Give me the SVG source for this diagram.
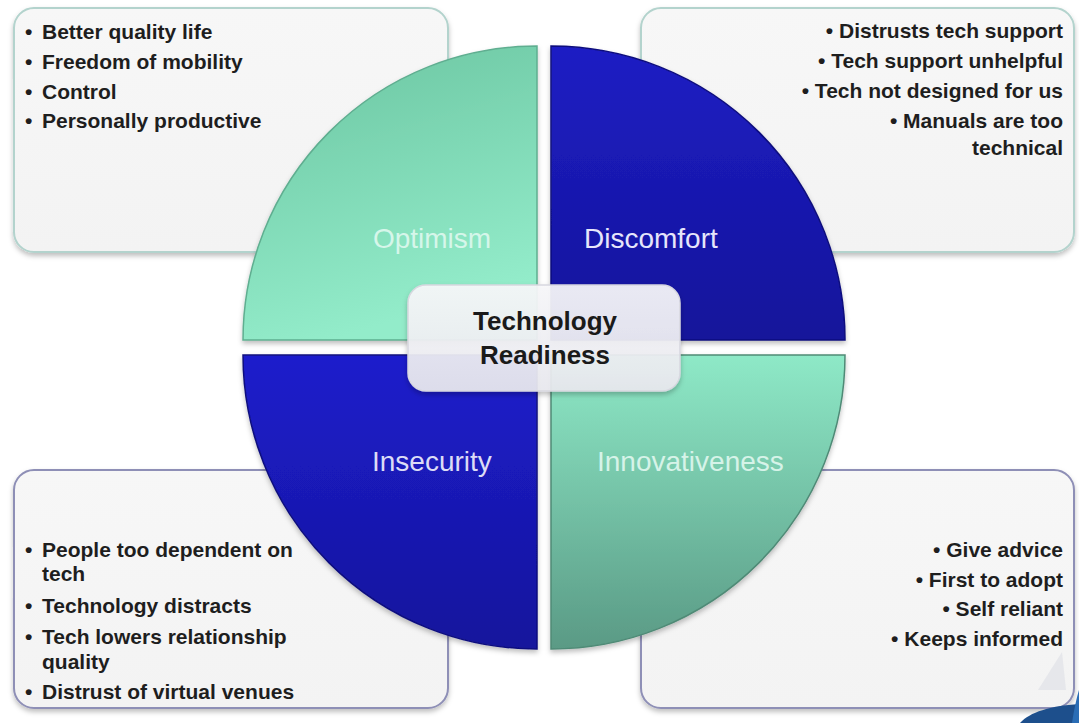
<svg xmlns="http://www.w3.org/2000/svg" width="1079" height="723" viewBox="0 0 1079 723">
  <defs>
    <filter id="shadow" x="-10%" y="-10%" width="120%" height="125%">
      <feDropShadow dx="0" dy="3" stdDeviation="2.5" flood-color="#000" flood-opacity="0.25"/>
    </filter>
    <linearGradient id="boxFill" x1="0" y1="0" x2="0" y2="1">
      <stop offset="0" stop-color="#f7f7f7"/>
      <stop offset="1" stop-color="#f3f3f3"/>
    </linearGradient>
    <linearGradient id="gOpt" x1="0" y1="0" x2="0.3" y2="1">
      <stop offset="0" stop-color="#6ac4a0"/>
      <stop offset="1" stop-color="#93ecca"/>
    </linearGradient>
    <linearGradient id="gDis" x1="0" y1="0" x2="0" y2="1">
      <stop offset="0" stop-color="#1e1ec4"/>
      <stop offset="1" stop-color="#13139a"/>
    </linearGradient>
    <linearGradient id="gIns" x1="0" y1="0" x2="0" y2="1">
      <stop offset="0" stop-color="#1d1dcc"/>
      <stop offset="1" stop-color="#15159c"/>
    </linearGradient>
    <linearGradient id="gInn" x1="0" y1="0" x2="0" y2="1">
      <stop offset="0" stop-color="#8ee9c7"/>
      <stop offset="1" stop-color="#5a9a85"/>
    </linearGradient>
    <linearGradient id="gCenter" x1="0" y1="0" x2="0" y2="1">
      <stop offset="0" stop-color="#f8f8fa"/>
      <stop offset="1" stop-color="#e9e9ef"/>
    </linearGradient>
    <style>
      .boxTop { fill: url(#boxFill); stroke: #b3d3cd; stroke-width: 2; filter: url(#shadow); }
      .boxBot { fill: url(#boxFill); stroke: #8e8fb6; stroke-width: 2; filter: url(#shadow); }
      .bul { font-family: "Liberation Sans", Arial, sans-serif; font-weight: bold; font-size: 21px; fill: #1e1e1e; }
      .r { text-anchor: end; }
      .lab { font-family: "Liberation Sans", Arial, sans-serif; font-size: 28px; }
      .ctr { font-family: "Liberation Sans", Arial, sans-serif; font-weight: bold; font-size: 26px; fill: #1a1a1a; text-anchor: middle; }
      .q { filter: url(#shadow); stroke-width: 1.5; }
    </style>
  </defs>
  <rect width="1079" height="723" fill="#ffffff"/>

  <g id="box-optimism">
    <rect class="boxTop" x="14" y="8" width="434" height="244" rx="20"/>
    <text class="bul"><tspan x="25" y="39">•</tspan><tspan x="42" y="39">Better quality life</tspan></text>
    <text class="bul"><tspan x="25" y="69">•</tspan><tspan x="42" y="69">Freedom of mobility</tspan></text>
    <text class="bul"><tspan x="25" y="99">•</tspan><tspan x="42" y="99">Control</tspan></text>
    <text class="bul"><tspan x="25" y="128">•</tspan><tspan x="42" y="128">Personally productive</tspan></text>
  </g>

  <g id="box-discomfort">
    <rect class="boxTop" x="641" y="8" width="433" height="244" rx="20"/>
    <text class="bul r" x="1063" y="38">• Distrusts tech support</text>
    <text class="bul r" x="1063" y="68">• Tech support unhelpful</text>
    <text class="bul r" x="1063" y="98">• Tech not designed for us</text>
    <text class="bul r" x="1063" y="128">• Manuals are too</text>
    <text class="bul r" x="1063" y="155">technical</text>
  </g>

  <g id="box-insecurity">
    <rect class="boxBot" x="14" y="470" width="434" height="238" rx="20"/>
    <text class="bul"><tspan x="25" y="557">•</tspan><tspan x="42" y="557">People too dependent on</tspan></text>
    <text class="bul" x="42" y="581">tech</text>
    <text class="bul"><tspan x="25" y="613">•</tspan><tspan x="42" y="613">Technology distracts</tspan></text>
    <text class="bul"><tspan x="25" y="644">•</tspan><tspan x="42" y="644">Tech lowers relationship</tspan></text>
    <text class="bul" x="42" y="669">quality</text>
    <text class="bul"><tspan x="25" y="699">•</tspan><tspan x="42" y="699">Distrust of virtual venues</tspan></text>
  </g>

  <g id="box-innovativeness">
    <rect class="boxBot" x="641" y="470" width="433" height="238" rx="20"/>
    <path d="M1038,690 L1062,652 L1066,690 Z" fill="#e2e4e8" opacity="0.8"/>
    <text class="bul r" x="1063" y="557">• Give advice</text>
    <text class="bul r" x="1063" y="587">• First to adopt</text>
    <text class="bul r" x="1063" y="616">• Self reliant</text>
    <text class="bul r" x="1063" y="646">• Keeps informed</text>
  </g>

  <g id="quadrant-optimism">
    <path class="q" d="M537,340 L243,340 A294,294 0 0 1 537,46 Z" fill="url(#gOpt)" stroke="#5fae90"/>
    <text class="lab" x="432" y="248" text-anchor="middle" fill="#d6f6ea">Optimism</text>
  </g>
  <g id="quadrant-discomfort">
    <path class="q" d="M551,340 L551,46 A294,294 0 0 1 845,340 Z" fill="url(#gDis)" stroke="#10107e"/>
    <text class="lab" x="584" y="248" fill="#e6e6fb">Discomfort</text>
  </g>
  <g id="quadrant-insecurity">
    <path class="q" d="M537,355 L537,649 A294,294 0 0 1 243,355 Z" fill="url(#gIns)" stroke="#10107e"/>
    <text class="lab" x="372" y="471" fill="#dcdcf6">Insecurity</text>
  </g>
  <g id="quadrant-innovativeness">
    <path class="q" d="M551,355 L845,355 A294,294 0 0 1 551,649 Z" fill="url(#gInn)" stroke="#4f8a76"/>
    <text class="lab" x="597" y="471" fill="#d6f3e8">Innovativeness</text>
  </g>

  <g id="center">
    <rect x="408" y="285" width="272" height="106" rx="18" fill="url(#gCenter)" fill-opacity="0.93" stroke="#d8d8e0" stroke-width="1.5" filter="url(#shadow)"/>
    <text class="ctr" x="545" y="330">Technology</text>
    <text class="ctr" x="545" y="364">Readiness</text>
  </g>

  <g id="connectors"/>

  <g id="logo">
    <path d="M1020,723 C1030,712 1050,706 1079,704 L1079,723 Z" fill="#1d4f8c"/>
    <path d="M1072,723 C1074,710 1076,700 1079,690 L1079,723 Z" fill="#2a6db5"/>
  </g>
</svg>
